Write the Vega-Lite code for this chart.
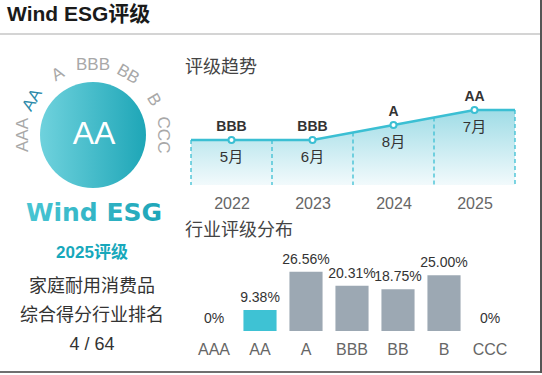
{
  "$schema": "https://vega.github.io/schema/vega-lite/v6.json",
  "padding": 0,
  "background": "white",
  "config": {
    "view": {"stroke": null},
    "font": "Liberation Sans, Noto Sans CJK SC, sans-serif",
    "text": {"font": "Liberation Sans, Noto Sans CJK SC, sans-serif"},
    "axis": {"labelFont": "Liberation Sans, Noto Sans CJK SC, sans-serif", "minExtent": 0, "maxExtent": 20},
    "title": {"font": "Liberation Sans, Noto Sans CJK SC, sans-serif"}
  },
  "datasets": {
    "rating": [{"year": 2025, "rating": "AA"}],
    "scale": [
      {"rating": "AAA"}, {"rating": "AA"}, {"rating": "A"}, {"rating": "BBB"},
      {"rating": "BB"}, {"rating": "B"}, {"rating": "CCC"}
    ],
    "profile": [
      {"line": "家庭耐用消费品"},
      {"line": "综合得分行业排名"},
      {"line": "4 / 64"}
    ],
    "trend": [
      {"year": 2022, "rating": "BBB", "score": 4, "month": "5月"},
      {"year": 2023, "rating": "BBB", "score": 4, "month": "6月"},
      {"year": 2024, "rating": "A", "score": 5, "month": "8月"},
      {"year": 2025, "rating": "AA", "score": 6, "month": "7月"}
    ],
    "trendLine": [
      {"year": 2021.5, "score": 4},
      {"year": 2022, "score": 4},
      {"year": 2023, "score": 4},
      {"year": 2024, "score": 5},
      {"year": 2025, "score": 6},
      {"year": 2025.5, "score": 6}
    ],
    "trendEdges": [
      {"year": 2021.5, "score": 4},
      {"year": 2022.5, "score": 4},
      {"year": 2023.5, "score": 4.5},
      {"year": 2024.5, "score": 5.5},
      {"year": 2025.5, "score": 6}
    ],
    "dist": [
      {"rating": "AAA", "pct": 0, "label": "0%"},
      {"rating": "AA", "pct": 9.38, "label": "9.38%"},
      {"rating": "A", "pct": 26.56, "label": "26.56%"},
      {"rating": "BBB", "pct": 20.31, "label": "20.31%"},
      {"rating": "BB", "pct": 18.75, "label": "18.75%"},
      {"rating": "B", "pct": 25, "label": "25.00%"},
      {"rating": "CCC", "pct": 0, "label": "0%"}
    ]
  },
  "spacing": 0,
  "hconcat": [
    {
      "spacing": 0,
      "vconcat": [
        {
          "width": 540,
          "height": 35,
          "title": {
            "text": "Wind ESG评级",
            "anchor": "start",
            "frame": "group",
            "orient": "top",
            "offset": -42,
            "baseline": "alphabetic",
            "fontSize": 21,
            "fontWeight": "bold",
            "color": "#1a1a1a",
            "dx": 7
          },
          "data": {"values": [{"edge": 0, "edge2": 2}]},
          "mark": {"type": "rect", "color": "#d4d4d4"},
          "encoding": {
            "y": {"field": "edge", "type": "quantitative", "scale": {"domain": [0, 35], "nice": false}, "axis": null},
            "y2": {"field": "edge2"}
          }
        },
        {
          "spacing": 1,
          "hconcat": [
            {
              "spacing": 0,
              "vconcat": [
                {
                  "width": 184,
                  "height": 159,
                  "data": {"name": "rating"},
                  "layer": [
                    {
                      "mark": {
                        "type": "arc",
                        "theta": 0,
                        "theta2": 6.2832,
                        "outerRadius": 53,
                        "yOffset": 20.5,
                        "xOffset": 1,
                        "fill": {
                          "gradient": "linear",
                          "x1": 0, "y1": 0, "x2": 1, "y2": 0,
                          "stops": [
                            {"offset": 0, "color": "#6fd2dd"},
                            {"offset": 1, "color": "#1ea6b7"}
                          ]
                        }
                      },
                      "encoding": {}
                    },
                    {
                      "mark": {"type": "text", "fontSize": 32, "color": "#ffffff", "yOffset": 19, "xOffset": 2, "baseline": "middle"},
                      "encoding": {"text": {"field": "rating"}}
                    },
                    {
                      "data": {"name": "scale"},
                      "mark": {"type": "text", "radius": 70, "fontSize": 17, "yOffset": 20.5, "xOffset": 1, "baseline": "middle", "align": "center"},
                      "encoding": {
                        "text": {"field": "rating"},
                        "theta": {
                          "field": "rating", "type": "ordinal",
                          "scale": {"type": "point", "domain": ["AAA", "AA", "A", "BBB", "BB", "B", "CCC"], "range": [-1.5708, 1.5708], "padding": 0}
                        },
                        "angle": {
                          "field": "rating", "type": "ordinal",
                          "scale": {"type": "point", "domain": ["AAA", "AA", "A", "BBB", "BB", "B", "CCC"], "range": [-90, 90], "padding": 0},
                          "legend": null
                        },
                        "color": {
                          "condition": {"test": "datum.rating === 'AA'", "value": "#2b8aaa"},
                          "value": "#a8a8a8"
                        }
                      }
                    }
                  ]
                },
                {
                  "width": 184,
                  "height": 37,
                  "data": {"values": [{"brand": "Wind ESG"}]},
                  "mark": {
                    "type": "text",
                    "font": "DejaVu Sans",
                    "fontWeight": "bold",
                    "fontSize": 25,
                    "baseline": "middle",
                    "xOffset": 2,
                    "fill": {
                      "gradient": "linear",
                      "x1": 0, "y1": 0, "x2": 1, "y2": 0,
                      "stops": [
                        {"offset": 0, "color": "#48c5d3"},
                        {"offset": 1, "color": "#1ea5b8"}
                      ]
                    }
                  },
                  "encoding": {"text": {"field": "brand"}}
                },
                {
                  "width": 184,
                  "height": 40,
                  "data": {"values": [{"label": "2025评级"}]},
                  "mark": {"type": "text", "fontSize": 17, "fontWeight": "bold", "color": "#17a8bb", "baseline": "middle", "dy": 2},
                  "encoding": {"text": {"field": "label"}}
                },
                {
                  "width": 184,
                  "height": 86,
                  "data": {"name": "profile"},
                  "mark": {"type": "text", "fontSize": 18, "color": "#333333", "baseline": "middle", "dy": 2},
                  "encoding": {
                    "y": {"field": "line", "type": "nominal", "sort": null, "scale": {"type": "point", "padding": 0.5}, "axis": null},
                    "text": {"field": "line"}
                  }
                }
              ]
            },
            {
              "spacing": 0,
              "vconcat": [
                {
                  "width": 324,
                  "height": 177,
                  "title": {
                    "text": "评级趋势",
                    "anchor": "start",
                    "frame": "group",
                    "orient": "top",
                    "offset": -51,
                    "baseline": "middle",
                    "fontSize": 18,
                    "fontWeight": "normal",
                    "color": "#444444",
                    "dx": -6
                  },
                  "encoding": {
                    "x": {
                      "field": "year", "type": "quantitative",
                      "scale": {"domain": [2021.5, 2025.5], "nice": false, "zero": false},
                      "axis": {
                        "values": [2022, 2023, 2024, 2025], "format": "d", "title": null,
                        "domain": false, "ticks": false, "grid": false, "offset": -27,
                        "labelFontSize": 16, "labelColor": "#666666", "labelPadding": 10
                      }
                    },
                    "y": {
                      "field": "score", "type": "quantitative",
                      "scale": {"domain": [-0.8, 11], "nice": false, "zero": false},
                      "axis": null
                    }
                  },
                  "layer": [
                    {
                      "data": {"name": "trendLine"},
                      "mark": {
                        "type": "area",
                        "fill": {
                          "gradient": "linear",
                          "x1": 0, "y1": 0, "x2": 0, "y2": 1,
                          "stops": [
                            {"offset": 0, "color": "#9fdce6"},
                            {"offset": 1, "color": "#f2fafc"}
                          ]
                        }
                      },
                      "encoding": {"y2": {"datum": 1}}
                    },
                    {
                      "data": {"name": "trendEdges"},
                      "mark": {"type": "rule", "color": "#3bbfd3", "strokeDash": [4, 3], "strokeWidth": 1.3},
                      "encoding": {"y2": {"datum": 1}}
                    },
                    {
                      "data": {"name": "trendLine"},
                      "mark": {"type": "line", "color": "#3bbfd3", "strokeWidth": 2.5}
                    },
                    {
                      "data": {"name": "trend"},
                      "mark": {"type": "point", "filled": true, "fill": "#ffffff", "stroke": "#3bbfd3", "strokeWidth": 2, "size": 36, "opacity": 1}
                    },
                    {
                      "data": {"name": "trend"},
                      "mark": {"type": "text", "dy": -13, "fontSize": 14, "fontWeight": "bold", "color": "#333333"},
                      "encoding": {"text": {"field": "rating"}}
                    },
                    {
                      "data": {"name": "trend"},
                      "mark": {"type": "text", "dy": 17, "fontSize": 15, "color": "#333333"},
                      "encoding": {"text": {"field": "month"}}
                    }
                  ]
                },
                {
                  "width": 322,
                  "height": 145,
                  "data": {"name": "dist"},
                  "title": {
                    "text": "行业评级分布",
                    "anchor": "start",
                    "frame": "group",
                    "orient": "top",
                    "offset": -37,
                    "baseline": "middle",
                    "fontSize": 18,
                    "fontWeight": "normal",
                    "color": "#444444",
                    "dx": -6
                  },
                  "encoding": {
                    "x": {
                      "field": "rating", "type": "nominal", "sort": null,
                      "scale": {"domain": ["AAA", "AA", "A", "BBB", "BB", "B", "CCC"], "paddingInner": 0.28, "paddingOuter": 0.14},
                      "axis": {
                        "title": null, "labelAngle": 0, "domain": false, "ticks": false, "offset": -26,
                        "labelFontSize": 16, "labelColor": "#666666", "labelPadding": 10
                      }
                    },
                    "y": {
                      "field": "pct", "type": "quantitative",
                      "scale": {"domain": [-11.66, 53.39], "nice": false, "zero": false},
                      "axis": null
                    }
                  },
                  "layer": [
                    {
                      "mark": {"type": "bar"},
                      "encoding": {
                        "y2": {"datum": 0},
                        "color": {
                          "condition": {"test": "datum.rating === 'AA'", "value": "#3ec2d4"},
                          "value": "#9ca8b3"
                        }
                      }
                    },
                    {
                      "mark": {"type": "text", "dy": -12, "fontSize": 14, "color": "#333333"},
                      "encoding": {"text": {"field": "label"}}
                    }
                  ]
                }
              ]
            }
          ]
        },
        {
          "width": 540,
          "height": 16,
          "data": {"values": [{"edge": 0, "edge2": 2}]},
          "mark": {"type": "rect", "color": "#707070"},
          "encoding": {
            "y": {"field": "edge", "type": "quantitative", "scale": {"domain": [0, 16], "nice": false}, "axis": null},
            "y2": {"field": "edge2"}
          }
        }
      ]
    },
    {
      "width": 2,
      "height": 373,
      "data": {"values": [{"edge": 0, "edge2": 1}]},
      "mark": {"type": "rect", "color": "#555555"},
      "encoding": {
        "x": {"field": "edge", "type": "quantitative", "scale": {"domain": [0, 1], "nice": false}, "axis": null},
        "x2": {"field": "edge2"}
      }
    }
  ]
}
